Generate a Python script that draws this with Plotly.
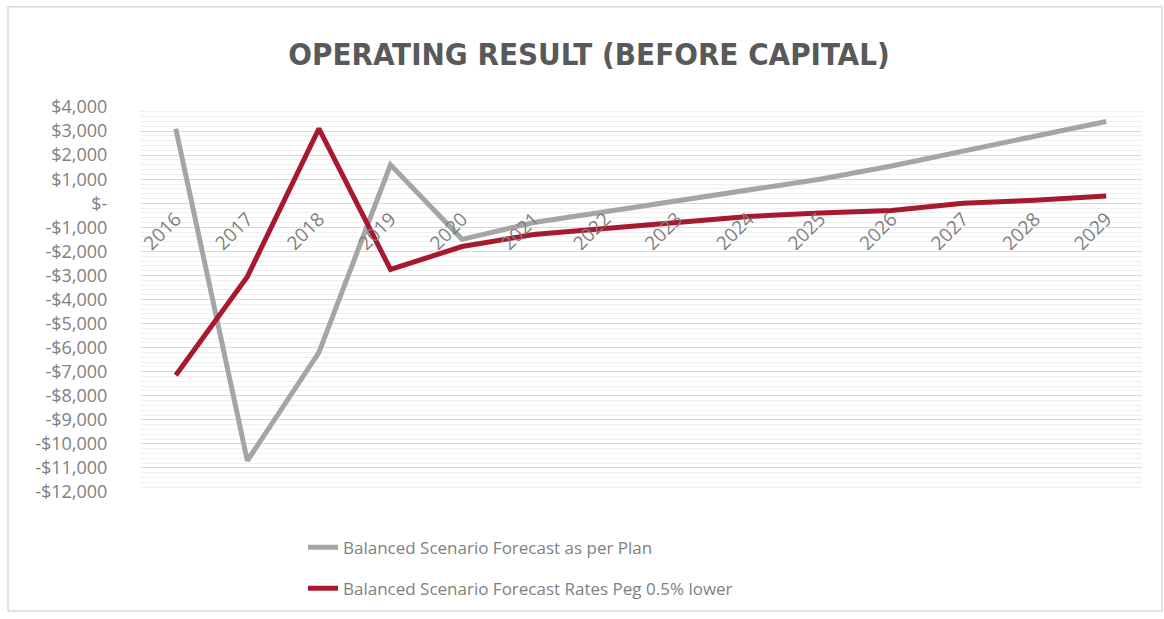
import plotly.graph_objects as go

# Financial years shown on the category axis
years = ["2016", "2017", "2018", "2019", "2020", "2021", "2022",
         "2023", "2024", "2025", "2026", "2027", "2028", "2029"]

# Operating result (before capital), $ thousands
plan_forecast = [3100, -10700, -6200, 1600, -1500, -800, -350,
                 100, 500, 1000, 1550, 2150, 2750, 3400]
peg_lower_forecast = [-7150, -3050, 3100, -2750, -1800, -1300, -1050,
                      -800, -550, -400, -300, 0, 120, 300]

# Y-axis ticks in accounting style
y_tick_values = [4000, 3000, 2000, 1000, 0, -1000, -2000, -3000, -4000, -5000,
                 -6000, -7000, -8000, -9000, -10000, -11000, -12000]
y_tick_labels = ["$4,000", "$3,000", "$2,000", "$1,000", "$-", "-$1,000", "-$2,000",
                 "-$3,000", "-$4,000", "-$5,000", "-$6,000", "-$7,000", "-$8,000",
                 "-$9,000", "-$10,000", "-$11,000", "-$12,000"]

GREY = "#a5a5a5"
RED = "#a6192e"
TEXT = "#7f7f7f"
LABEL_FONT = "Open Sans, DejaVu Sans, sans-serif"

W, H = 1164, 619
ML, MR, MT, MB = 140, 22, 107, 124
plot_w = W - ML - MR
plot_h = H - MT - MB

fig = go.Figure()
fig.add_trace(go.Scatter(
    x=years, y=plan_forecast, mode="lines",
    name="Balanced Scenario Forecast as per Plan",
    line=dict(color=GREY, width=5),
    legendgroup="a",
))
fig.add_trace(go.Scatter(
    x=years, y=peg_lower_forecast, mode="lines",
    name="Balanced Scenario Forecast Rates Peg 0.5% lower",
    line=dict(color=RED, width=5),
    legendgroup="b",
))

y_min, y_max = -12000, 4000
zero_pos = (0 - y_min) / (y_max - y_min)


def px_x(p):
    return (p - ML) / plot_w


def px_y(p):
    return (H - MB - p) / plot_h


fig.update_layout(
    width=W, height=H,
    margin=dict(l=ML, r=MR, t=MT, b=MB),
    paper_bgcolor="white",
    plot_bgcolor="white",
    title=dict(
        text="<b>OPERATING RESULT (BEFORE CAPITAL)</b>",
        x=589 / W, xanchor="center",
        y=1 - 54 / H, yanchor="middle",
        font=dict(family="DejaVu Sans Condensed, Liberation Sans Narrow, sans-serif",
                  size=31, color="#595959"),
    ),
    xaxis=dict(
        type="category",
        range=[-0.5, 13.5],
        anchor="free",
        position=zero_pos,
        showgrid=False,
        showline=False,
        zeroline=False,
        ticks="",
        tickangle=-45,
        tickfont=dict(family=LABEL_FONT, size=19, color=TEXT),
    ),
    yaxis=dict(
        range=[y_min, y_max],
        tickvals=y_tick_values,
        ticktext=y_tick_labels,
        tickfont=dict(family=LABEL_FONT, size=18, color=TEXT),
        ticks="outside",
        ticklen=28,
        tickcolor="rgba(0,0,0,0)",
        showgrid=True,
        gridcolor="#d9d9d9",
        gridwidth=1,
        minor=dict(dtick=200, showgrid=True, gridcolor="#f0f0f0", gridwidth=1),
        zeroline=False,
        showline=False,
    ),
    legend=dict(
        x=px_x(303), xanchor="left",
        y=px_y(533), yanchor="top",
        orientation="v",
        tracegroupgap=16,
        font=dict(family=LABEL_FONT, size=17, color=TEXT),
        bgcolor="rgba(0,0,0,0)",
    ),
    showlegend=True,
    shapes=[dict(
        type="rect", xref="paper", yref="paper",
        x0=px_x(8), x1=px_x(1162), y0=px_y(615), y1=px_y(6),
        line=dict(color="#d9d9d9", width=1.5),
        fillcolor="rgba(0,0,0,0)",
        layer="below",
    )],
)

fig.write_html("out.html")
